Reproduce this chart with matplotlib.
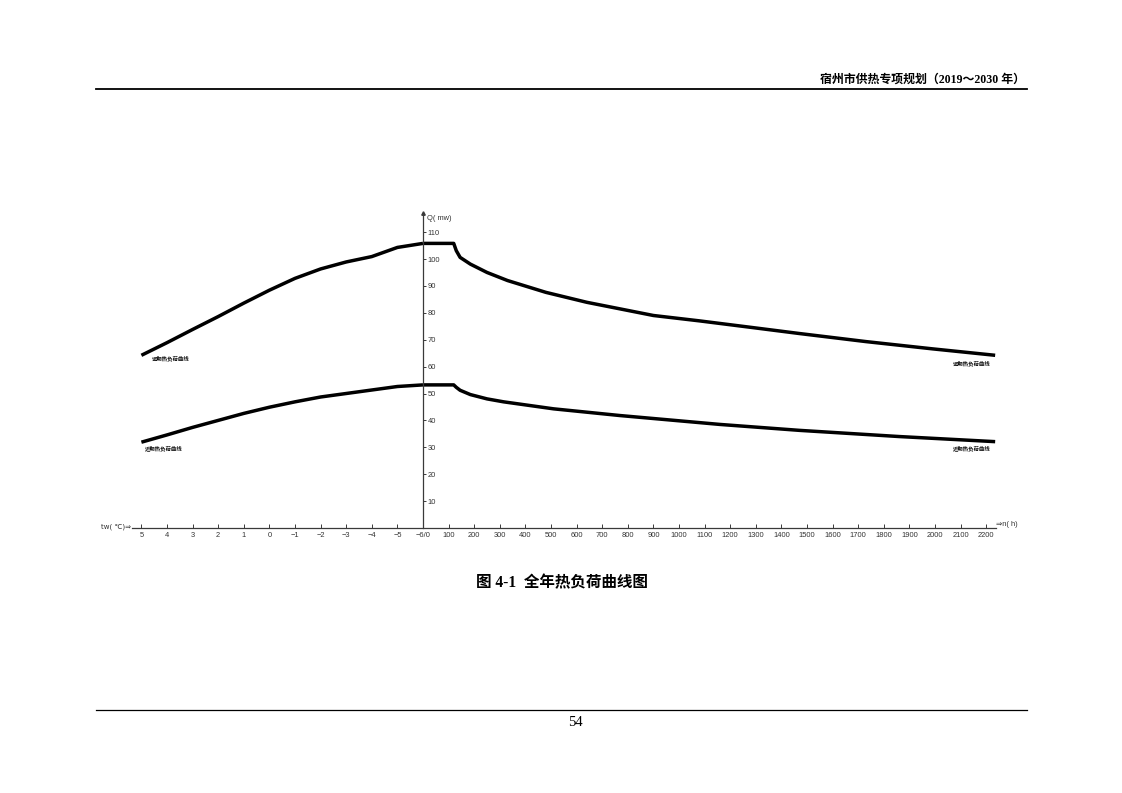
import matplotlib
matplotlib.use("Agg")
import matplotlib.pyplot as plt
from matplotlib.lines import Line2D
import numpy as np

plt.rcParams['font.family'] = ['Liberation Sans', 'Noto Sans CJK SC', 'DejaVu Sans']

# ---------------- data ----------------
# heating-period outdoor temperature part (left branch), tw in degC
temps = [5, 4, 3, 2, 1, 0, -1, -2, -3, -4, -5, -6]
far_load_by_temp = [64.2, 68.9, 73.8, 78.6, 83.6, 88.4, 92.8, 96.3, 98.9, 100.9, 104.3, 105.8]
near_load_by_temp = [31.9, 34.6, 37.4, 40.0, 42.6, 44.9, 46.9, 48.7, 50.0, 51.3, 52.6, 53.2]

# duration part (right branch), hours n(h)
far_hours = [0, 120, 130, 145, 185, 250, 330, 480, 640, 900, 1080, 1280, 1470, 1730, 1990, 2235]
far_load_by_hour = [105.8, 105.8, 103.1, 100.6, 98.1, 95.0, 92.0, 87.6, 83.9, 79.0, 77.0, 74.6, 72.3, 69.3, 66.6, 64.2]
near_hours = [0, 120, 130, 145, 185, 250, 315, 510, 770, 1160, 1470, 1860, 2235]
near_load_by_hour = [53.2, 53.2, 52.3, 51.2, 49.6, 48.0, 46.9, 44.3, 41.8, 38.5, 36.3, 34.0, 32.1]

temp_tick_labels = ['5', '4', '3', '2', '1', '0', '\u22121', '\u22122', '\u22123', '\u22124', '\u22125', '\u22126/0']
hour_ticks = list(range(100, 2300, 100))
y_ticks = list(range(10, 120, 10))

far_label = '远期热负荷曲线'
near_label = '近期热负荷曲线'
header = '宿州市供热专项规划（2019～2030 年）'
caption = '图 4-1  全年热负荷曲线图'
page_no = '54'

# one shared horizontal scale: 1 degC step on the left equals 100 h on the right
DEG_TO_U = 100.0
def temp_to_u(t):
    return -(np.asarray(t, dtype=float) + 6) * DEG_TO_U

# ---------------- figure ----------------
W, H = 1122, 793
fig = plt.figure(figsize=(W / 100, H / 100), dpi=100)

x_lo, x_hi = -1300, 2400
y_lo, y_hi = -10, 125
px_per_u = 0.256
px_per_q = 2.69
x0_px, y0_px = 423, 528
left_px = x0_px + x_lo * px_per_u
right_px = x0_px + x_hi * px_per_u
bot_px = y0_px - y_lo * px_per_q
top_px = y0_px - y_hi * px_per_q
ax = fig.add_axes([left_px / W, 1 - bot_px / H, (right_px - left_px) / W, (bot_px - top_px) / H])
ax.set_xlim(x_lo, x_hi)
ax.set_ylim(y_lo, y_hi)
ax.patch.set_alpha(0)

axis_color = '#3a3a3a'
for s in ['top', 'left']:
    ax.spines[s].set_visible(False)
ax.spines['bottom'].set_position(('data', 0))
ax.spines['bottom'].set_bounds(-1137, 2240)
ax.spines['right'].set_position(('data', 0))
ax.spines['right'].set_bounds(0, 117)
for s in ['bottom', 'right']:
    ax.spines[s].set_color(axis_color)
    ax.spines[s].set_linewidth(0.9)

ax.yaxis.tick_right()
xt = list(temp_to_u(temps)) + hour_ticks
xl = temp_tick_labels + [str(h) for h in hour_ticks]
ax.set_xticks(xt)
ax.set_xticklabels(xl)
ax.set_yticks(y_ticks)
ax.set_yticklabels([str(v) for v in y_ticks])
ax.tick_params(axis='x', direction='in', length=3.0, width=0.7, color=axis_color,
               labelsize=5.4, labelcolor='#333333', pad=3.0)
ax.tick_params(axis='y', direction='out', length=2.5, width=0.7, color=axis_color,
               labelsize=5.4, labelcolor='#333333', pad=1.0)

# curves
lw = 2.5
for xs, ys in [(temp_to_u(temps), far_load_by_temp), (far_hours, far_load_by_hour),
               (temp_to_u(temps), near_load_by_temp), (near_hours, near_load_by_hour)]:
    ax.plot(xs, ys, color='black', lw=lw, solid_capstyle='butt', solid_joinstyle='round')

# curve labels
lab_kw = dict(fontsize=3.9, fontweight='bold', color='#111111', family=['Noto Sans CJK SC'],
              ha='left', va='center')
ax.text(-1059, 63.0, far_label, **lab_kw)
ax.text(2070, 61.2, far_label, **lab_kw)
ax.text(-1086, 29.7, near_label, **lab_kw)
ax.text(2070, 29.6, near_label, **lab_kw)

# axis titles and arrows
ax.plot([0], [117], marker='^', markersize=2.5, color=axis_color, clip_on=False)
ax.text(16, 115.0, 'Q( mw)', fontsize=5.4, color='#333333', ha='left', va='center')
ax.text(2238, 1.3, '\u21d2n( h)', fontsize=5.4, color='#333333', ha='left', va='center',
        family=['Liberation Sans', 'DejaVu Sans'])
ax.text(-1140, 0.5, 'tw( \u2103)\u21d2', fontsize=5.0, color='#333333', ha='right', va='center',
        family=['DejaVu Sans', 'Noto Sans CJK SC'])

# ---------------- page elements ----------------
fig.add_artist(Line2D([96 / W, 1027 / W], [1 - 89 / H, 1 - 89 / H], color='black', lw=1.3,
                      transform=fig.transFigure))
fig.add_artist(Line2D([96 / W, 1027 / W], [1 - 710 / H, 1 - 710 / H], color='black', lw=0.9,
                      transform=fig.transFigure))
fig.text(1025 / W, 1 - 80 / H, header, fontsize=8.6, fontweight='bold', ha='right', va='center',
         family=['Liberation Serif', 'Noto Sans CJK SC'])
fig.text(562 / W, 1 - 583 / H, caption, fontsize=11.2, fontweight='bold', ha='center', va='center',
         family=['Liberation Serif', 'Noto Sans CJK SC'])
fig.text(575 / W, 1 - 723 / H, page_no, fontsize=10.5, ha='center', va='center',
         family=['Liberation Serif'])

fig.savefig('out.png', dpi=100)
